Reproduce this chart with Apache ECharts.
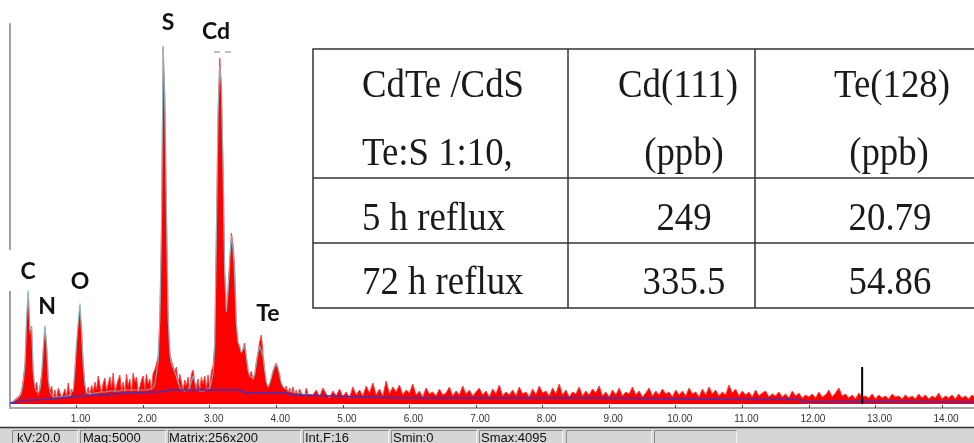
<!DOCTYPE html>
<html><head><meta charset="utf-8">
<script src="https://cdn.jsdelivr.net/npm/echarts/dist/echarts.min.js"></script>
<style>html,body{margin:0;padding:0;background:#fff}#c{width:974px;height:443px}</style>
</head><body><div id="c"></div>
<script>
// ---- spectrum data (energy in keV, intensity in arbitrary counts) ----
const energiesLow = [0,0.025,0.05,0.075,0.1,0.125,0.15,0.175,0.2,0.225,
0.25,0.275,0.3,0.325,0.35,0.375,0.4,0.425,0.45,0.475,
0.5,0.525,0.55,0.575,0.6,0.625,0.65,0.675,0.7,0.725,
0.75,0.775,0.8,0.825,0.85,0.875,0.9,0.925,0.95,0.975,
1,1.025,1.05,1.075,1.1,1.125,1.15,1.175,1.2,1.225,
1.25,1.275,1.3,1.325,1.35,1.375,1.4,1.425,1.45,1.475,
1.5,1.525,1.55,1.575,1.6,1.625,1.65,1.675,1.7,1.725,
1.75,1.775,1.8,1.825,1.85,1.875,1.9,1.925,1.95,1.975,
2,2.025,2.05,2.075,2.1,2.125,2.15,2.175,2.2,2.225,
2.25,2.275,2.3,2.325,2.35,2.375,2.4,2.425,2.45,2.475,
2.5,2.525,2.55,2.575,2.6,2.625,2.65,2.675,2.7,2.725,
2.75,2.775,2.8,2.825,2.85,2.875,2.9,2.925,2.95,2.975,
3,3.025,3.05,3.075,3.1,3.125,3.15,3.175,3.2,3.225,
3.25,3.275,3.3,3.325,3.35,3.375,3.4,3.425,3.45,3.475,
3.5,3.525,3.55,3.575,3.6,3.625,3.65,3.675,3.7,3.725,
3.75,3.775,3.8,3.825,3.85,3.875,3.9,3.925,3.95,3.975,
4,4.025,4.05,4.075,4.1,4.125,4.15,4.175,4.2,4.225,
4.25,4.275,4.3,4.325,4.35,4.375,4.4,4.425,4.45,4.475,4.5];
const countsLow = [1,2,3,4,6,5,9,14,25,40,
85,112,70,78,30,16,22,8,18,30,
55,77,60,25,13,18,6,14,5,16,
11,6,10,15,7,21,8,15,12,35,
60,80,99,75,40,20,9,17,8,19,
12,22,14,28,19,11,21,26,13,15,
27,16,31,12,18,24,29,13,22,12,
30,18,25,11,31,22,27,12,17,24,
28,15,30,20,25,14,31,34,40,48,
85,175,357,310,195,90,52,43,38,33,
37,20,30,22,13,24,18,27,14,30,
34,22,17,25,13,27,20,28,15,29,
16,33,38,60,174,290,346,320,241,135,
95,115,145,171,160,135,82,62,58,50,
52,61,48,35,28,33,24,30,42,52,
62,69,50,35,22,16,20,26,33,38,
41,36,30,20,22,15,18,12,16,11,
17,10,14,9,15,11,13,8,16,10,12];
const fitCountsLow = [1,2,3,4,5,6,8,12,22,38,
90,114,74,77,32,17,12,10,14,28,
56,79,58,24,12,10,7,7,7,7,
7,7,7,8,8,8,8,9,15,33,
62,84,101,72,38,19,12,10,10,10,
11,11,11,12,12,12,12,12,12,13,
13,13,13,13,13,13,13,13,14,14,
14,14,14,14,14,14,14,14,14,14,
14,14,14,15,15,15,16,20,30,42,
84,178,359,305,190,88,50,40,36,32,
30,22,17,14,13,13,13,14,16,22,
28,24,15,14,13,13,13,14,14,15,
16,22,30,58,170,292,338,318,238,132,
92,112,142,168,155,128,80,62,58,52,
53,58,47,34,28,27,26,29,40,50,
58,60,48,34,22,18,21,27,33,37,
40,36,29,22,18,16,15,14,13,13,
12,12,12,11,11,11,11,11,10,10,10];
const energiesHigh = [4.55,4.6,4.65,4.7,4.75,4.8,4.85,4.9,4.95,5,
5.05,5.1,5.15,5.2,5.25,5.3,5.35,5.4,5.45,5.5,
5.55,5.6,5.65,5.7,5.75,5.8,5.85,5.9,5.95,6,
6.05,6.1,6.15,6.2,6.25,6.3,6.35,6.4,6.45,6.5,
6.55,6.6,6.65,6.7,6.75,6.8,6.85,6.9,6.95,7,
7.05,7.1,7.15,7.2,7.25,7.3,7.35,7.4,7.45,7.5,
7.55,7.6,7.65,7.7,7.75,7.8,7.85,7.9,7.95,8,
8.05,8.1,8.15,8.2,8.25,8.3,8.35,8.4,8.45,8.5,
8.55,8.6,8.65,8.7,8.75,8.8,8.85,8.9,8.95,9,
9.05,9.1,9.15,9.2,9.25,9.3,9.35,9.4,9.45,9.5,
9.55,9.6,9.65,9.7,9.75,9.8,9.85,9.9,9.95,10,
10.05,10.1,10.15,10.2,10.25,10.3,10.35,10.4,10.45,10.5,
10.55,10.6,10.65,10.7,10.75,10.8,10.85,10.9,10.95,11,
11.05,11.1,11.15,11.2,11.25,11.3,11.35,11.4,11.45,11.5,
11.55,11.6,11.65,11.7,11.75,11.8,11.85,11.9,11.95,12,
12.05,12.1,12.15,12.2,12.25,12.3,12.35,12.4,12.45,12.5,
12.55,12.6,12.65,12.7,12.75,12.8,12.85,12.9,12.95,13,
13.05,13.1,13.15,13.2,13.25,13.3,13.35,13.4,13.45,13.5,
13.55,13.6,13.65,13.7,13.75,13.8,13.85,13.9,13.95,14,
14.05,14.1,14.15,14.2,14.25,14.3,14.35,14.4,14.45,14.5];
const countsHigh = [9,14,7,16,10,6,13,8,15,7,
12,6,17,9,14,8,18,11,21,9,
15,8,23,10,17,12,19,9,14,11,
20,9,13,7,16,10,12,8,15,9,
11,17,8,13,9,18,10,14,8,12,
16,9,13,7,15,10,19,8,12,9,
14,8,17,10,12,7,15,9,18,11,
13,8,16,10,20,9,14,7,12,10,
17,8,13,9,15,11,18,8,12,7,
14,9,16,8,12,10,17,9,13,7,
11,16,8,13,9,15,10,12,7,14,
9,13,8,16,10,12,7,15,9,17,
10,14,8,12,9,19,11,15,8,13,
9,12,7,14,8,11,13,7,10,8,
12,7,10,6,13,8,11,6,9,7,
10,6,12,7,9,14,7,11,16,8,
10,6,9,5,11,7,8,6,10,5,
9,6,8,5,10,7,8,5,9,6,
8,5,10,6,9,5,8,6,11,5,
8,6,9,5,10,6,8,5,9,6];
const bgEnergies = [0,0.1,0.15,0.5,0.75,1.05,1.35,1.8,2.25,2.4,3.45,3.55,4.15,4.25,4.85,5.85,8.85,11.05,11.85,11.9,13.05,14.5];
const bgLevels   = [1,1,3.5,4.5,6,8,9,11,12,14,14,11,11,9,8,6,6,4.5,4.5,2.3,2.5,2];
const markerEnergy = [12.8];
const markerLevels = [0,37];
const xTickValues = [1,2,3,4,5,6,7,8,9,10,11,12,13,14];
const xTickLabels = ['1.00','2.00','3.00','4.00','5.00','6.00','7.00','8.00','9.00','10.00','11.00','12.00','13.00','14.00'];
const peakNames = ['C','N','O','S','Cd','Te'];
// ---- inset table ----
const tableHead1 = ['CdTe /CdS','Cd(111)','Te(128)'];
const tableHead2 = ['Te:S 1:10,','(ppb)','(ppb)'];
const samples = ['5 h reflux','72 h reflux'];
const cdPpb = ['249','335.5'];
const tePpb = ['20.79','54.86'];
// ---- status bar ----
const statusTexts = ['kV:20.0','Mag:5000','Matrix:256x200','Int.F:16','Smin:0','Smax:4095'];

const zip = (a,b)=>a.map((v,i)=>[v,b[i]]);
const energies = energiesLow.concat(energiesHigh);
const counts = countsLow.concat(countsHigh);

const chart = echarts.init(document.getElementById('c'));
const graphic = [];
// white text-box gap over the y axis (behind the "C" label)
graphic.push({type:'rect',z:50,shape:{x:3,y:250,width:15,height:41},style:{fill:'#fff'}});
// peak labels
const labelPos = [[28,272],[47,307],[80,282],[168,23],[216,32],[268,314]];
peakNames.forEach((n,i)=>graphic.push({type:'text',z:100,x:labelPos[i][0],y:labelPos[i][1],
  style:{text:n,fill:'#111',font:'bold 23px Lato',textAlign:'center',textVerticalAlign:'middle'}}));
// dashes above Cd
graphic.push({type:'line',z:100,shape:{x1:214,y1:52,x2:220,y2:52},style:{stroke:'#aaa',lineWidth:1.5}});
graphic.push({type:'line',z:100,shape:{x1:225,y1:52,x2:231,y2:52},style:{stroke:'#aaa',lineWidth:1.5}});
// table
const tl = {stroke:'#333',lineWidth:1.5};
graphic.push({type:'rect',z:90,shape:{x:313,y:49,width:680,height:259},style:{fill:'#fff',stroke:'#333',lineWidth:1.5}});
[178,243].forEach(y=>graphic.push({type:'line',z:91,shape:{x1:313,y1:y,x2:974,y2:y},style:tl}));
[568,755].forEach(x=>graphic.push({type:'line',z:91,shape:{x1:x,y1:49,x2:x,y2:308},style:tl}));
const tf = '40px "Liberation Serif"';
function tt(text,x,y,align){graphic.push({type:'text',z:100,x:x,y:y,scaleX:0.92,
  style:{text:text,fill:'#1a1a1a',font:tf,textAlign:align,textVerticalAlign:'middle'}});}
const rowMid = [86.5,154.8,219.8,283.2];
tt(tableHead1[0],362,rowMid[0],'left'); tt(tableHead1[1],678,rowMid[0],'center'); tt(tableHead1[2],892,rowMid[0],'center');
tt(tableHead2[0],362,rowMid[1],'left'); tt(tableHead2[1],684,rowMid[1],'center'); tt(tableHead2[2],889,rowMid[1],'center');
samples.forEach((s,i)=>{tt(s,362,rowMid[i+2],'left'); tt(cdPpb[i],684,rowMid[i+2],'center'); tt(tePpb[i],890,rowMid[i+2],'center');});
// status bar
graphic.push({type:'rect',z:90,shape:{x:0,y:428,width:974,height:15},style:{fill:'#d6d6d6'}});
graphic.push({type:'line',z:91,shape:{x1:0,y1:427.5,x2:974,y2:427.5},style:{stroke:'#333',lineWidth:1.5}});
const panes = [[12,78],[80,166],[168,301],[303,389],[391,477],[479,563],[566,652],[654,737]];
panes.forEach(p=>{
  graphic.push({type:'polyline',z:92,shape:{points:[[p[0]+0.5,443],[p[0]+0.5,430.5],[p[1]-0.5,430.5]]},style:{stroke:'#8a8a8a',lineWidth:1,fill:null}});
  graphic.push({type:'line',z:92,shape:{x1:p[1]-0.5,y1:431,x2:p[1]-0.5,y2:443},style:{stroke:'#f4f4f4',lineWidth:1}});
});
const statusX = [17,83,169,305,393,481];
statusTexts.forEach((s,i)=>graphic.push({type:'text',z:100,x:statusX[i],y:438.5,
  style:{text:s,fill:'#111',font:'13px "Liberation Sans"',textAlign:'left',textVerticalAlign:'middle'}}));

chart.setOption({
  animation:false,
  grid:{left:10,right:0,top:24,bottom:35,containLabel:false},
  xAxis:{type:'value',min:0,max:14.48,interval:1,
    axisLine:{onZero:false,lineStyle:{color:'#a8a8a8',width:2}},
    axisTick:{inside:true,length:3,lineStyle:{color:'#444',width:1}},
    splitLine:{show:false},
    axisLabel:{margin:6,color:'#333',fontSize:10,fontFamily:'Liberation Sans',padding:[0,0,0,8],
      showMaxLabel:false,showMinLabel:false,
      formatter:v=>{const i=xTickValues.indexOf(Math.round(v*1000)/1000);return i>=0?xTickLabels[i]:'';}}},
  yAxis:{type:'value',min:-4,max:380,
    axisLine:{show:true,lineStyle:{color:'#a0a0a0',width:2}},
    axisTick:{show:false},axisLabel:{show:false},splitLine:{show:false}},
  graphic:graphic,
  series:[
    {type:'line',name:'spectrum',data:zip(energies,counts),symbol:'none',z:2,
      lineStyle:{color:'#ff4040',width:1},areaStyle:{color:'#ff0000',opacity:1}},
    {type:'line',name:'fit',data:zip(energiesLow,fitCountsLow),symbol:'none',z:3,
      lineStyle:{color:'#5fe3ee',width:1.2,opacity:0.7}},
    {type:'line',name:'background',data:zip(bgEnergies,bgLevels),symbol:'none',z:4,
      lineStyle:{color:'#3535c8',width:1.5}},
    {type:'line',name:'marker',data:markerLevels.map(v=>[markerEnergy[0],v]),symbol:'none',z:5,
      lineStyle:{color:'#000',width:2}}
  ]
});
</script></body></html>
